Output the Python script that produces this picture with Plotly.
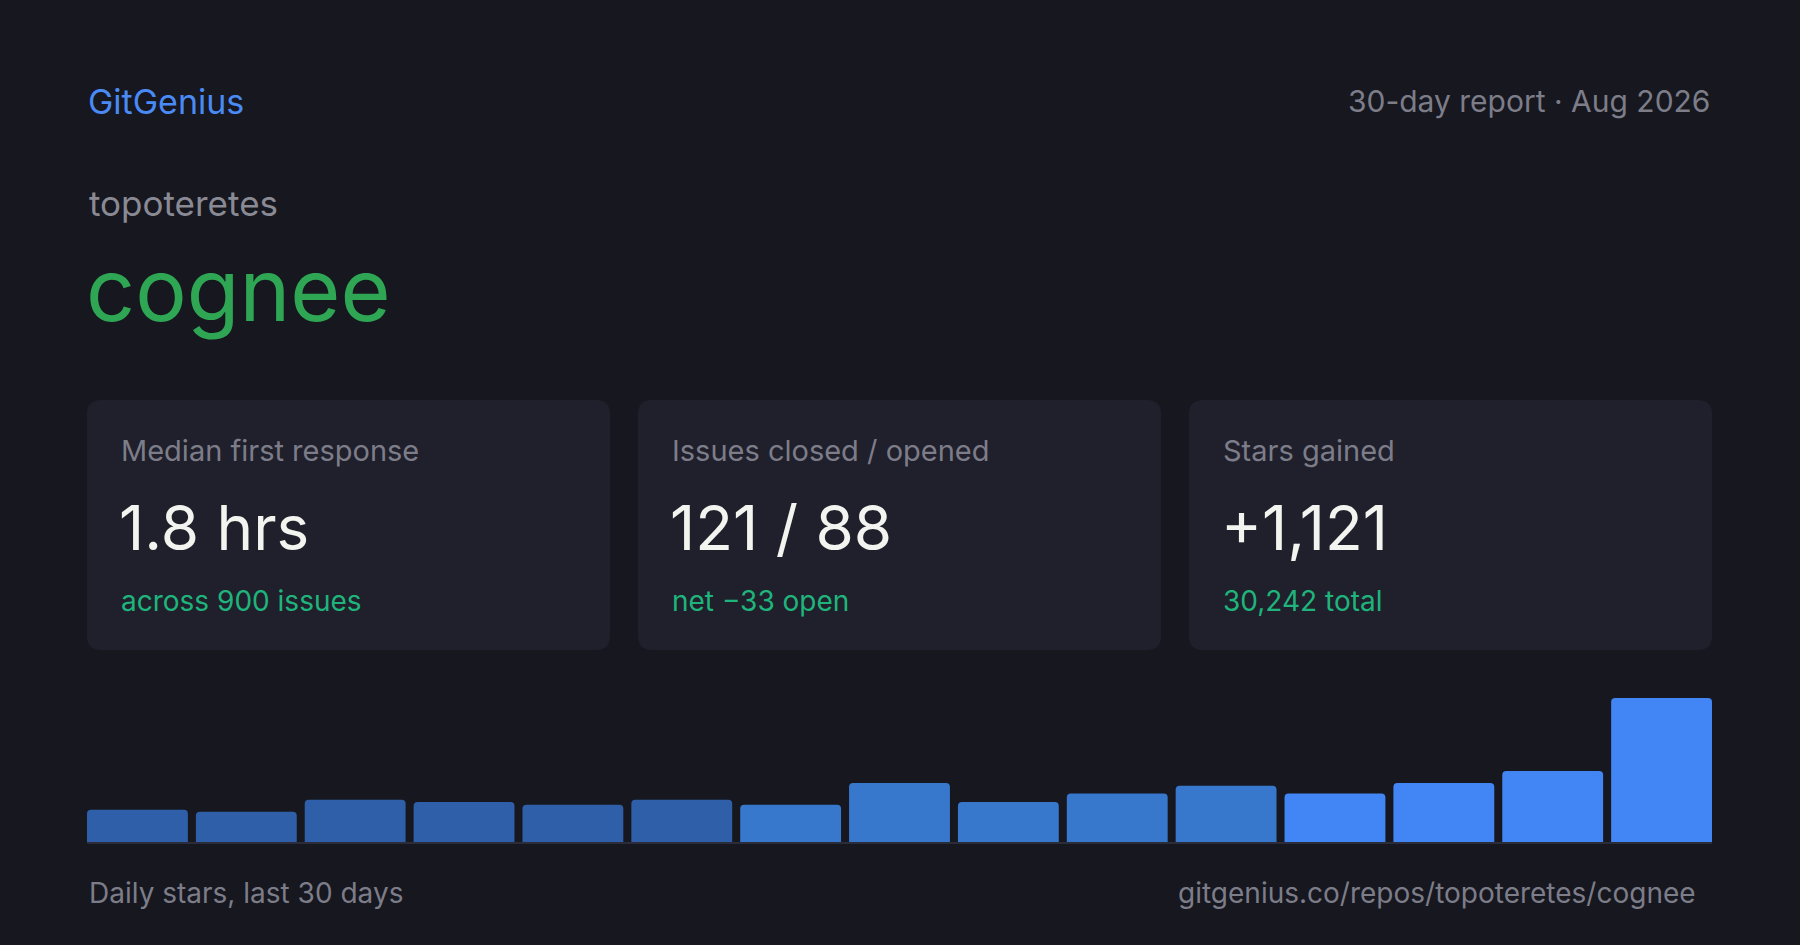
import plotly.graph_objects as go

W, H = 1800, 945

repo_owner = "topoteretes"
repo_name = "cognee"
card_labels = ["Median first response", "Issues closed / opened", "Stars gained"]
card_values = ["1.8 hrs", "121 / 88", "+1,121"]
card_notes = ["across 900 issues", "net \u221233 open", "30,242 total"]

# daily stars, binned in pairs of days (15 bars)
star_bins = list(range(15))
stars = [46, 43, 60, 57, 53, 60, 53, 84, 57, 69, 80, 69, 84, 101, 205]

BG = "#16171f"
CARD = "#1f202b"
GRAY = "#7d7d89"
WHITE = "#f3f3ef"
GREEN_NOTE = "#1fb47c"
FONT = "Inter"


def px(x):
    return x / W


def py(y):
    return 1 - y / H


def rounded_rect(x0, y0, x1, y1, r):
    # svg path in paper coords, corners drawn with quadratic curves
    p = [
        f"M{px(x0 + r)},{py(y0)}",
        f"L{px(x1 - r)},{py(y0)}",
        f"Q{px(x1)},{py(y0)} {px(x1)},{py(y0 + r)}",
        f"L{px(x1)},{py(y1 - r)}",
        f"Q{px(x1)},{py(y1)} {px(x1 - r)},{py(y1)}",
        f"L{px(x0 + r)},{py(y1)}",
        f"Q{px(x0)},{py(y1)} {px(x0)},{py(y1 - r)}",
        f"L{px(x0)},{py(y0 + r)}",
        f"Q{px(x0)},{py(y0)} {px(x0 + r)},{py(y0)}",
        "Z",
    ]
    return " ".join(p)


def text(x, y, s, size, color, anchor="left"):
    return dict(
        x=px(x), y=py(y), xref="paper", yref="paper", text=s, showarrow=False,
        xanchor=anchor, yanchor="middle",
        font=dict(family=FONT, size=size, color=color),
    )


# bar colours step up in three tiers
bar_colors = []
for i in range(len(stars)):
    if i < 6:
        bar_colors.append("#2f5fa9")
    elif i < 11:
        bar_colors.append("#3778cc")
    else:
        bar_colors.append("#4285f4")

left, right = 87, 1712
base_y, top_y = 842, 698
gap = 8
n = len(stars)
pitch = (right - left + gap) / n
bargap = gap / pitch
half = (1 - bargap) / 2

fig = go.Figure()
fig.add_trace(go.Bar(
    x=star_bins, y=stars,
    marker=dict(color=bar_colors, line=dict(width=0), cornerradius=4),
    hoverinfo="skip",
))

fig.update_layout(
    width=W, height=H,
    margin=dict(l=0, r=0, t=0, b=0),
    paper_bgcolor=BG, plot_bgcolor=BG,
    showlegend=False,
    bargap=bargap,
    xaxis=dict(
        domain=[px(left), px(right)],
        range=[star_bins[0] - half, star_bins[-1] + half],
        showgrid=False, zeroline=False, showticklabels=False,
        showline=True, linecolor="#2b2c39", linewidth=2,
    ),
    yaxis=dict(
        domain=[py(base_y), py(top_y)],
        range=[0, max(stars)],
        showgrid=False, zeroline=False, showticklabels=False,
    ),
)

# stat cards
card_x = [87, 638, 1189]
card_w = 523
shapes = []
annotations = []
for i in range(3):
    x0 = card_x[i]
    shapes.append(dict(
        type="path", xref="paper", yref="paper",
        path=rounded_rect(x0, 400, x0 + card_w, 650, 14),
        fillcolor=CARD, line=dict(width=0), layer="below",
    ))
    annotations.append(text(x0 + 32, 450, card_labels[i], 29, GRAY))
    annotations.append(text(x0 + 30, 527, card_values[i], 62, WHITE))
    annotations.append(text(x0 + 32, 601, card_notes[i], 28, GREEN_NOTE))

annotations += [
    text(86, 101, "GitGenius", 34, "#4a8af4"),
    text(1712, 101, "30-day report \u00b7 Aug 2026", 30, GRAY, "right"),
    text(87, 203, repo_owner, 35, "#8a8a95"),
    text(84, 290, repo_name, 86, "#2ea653"),
    text(87, 893, "Daily stars, last 30 days", 28, GRAY),
    text(1698, 893, "gitgenius.co/repos/topoteretes/cognee", 28, GRAY, "right"),
]

fig.update_layout(shapes=shapes, annotations=annotations)

fig.write_html(
    "out.html",
    config={"displayModeBar": False},
    post_script="document.body.style.margin='0';document.body.style.background='" + BG + "';",
)
